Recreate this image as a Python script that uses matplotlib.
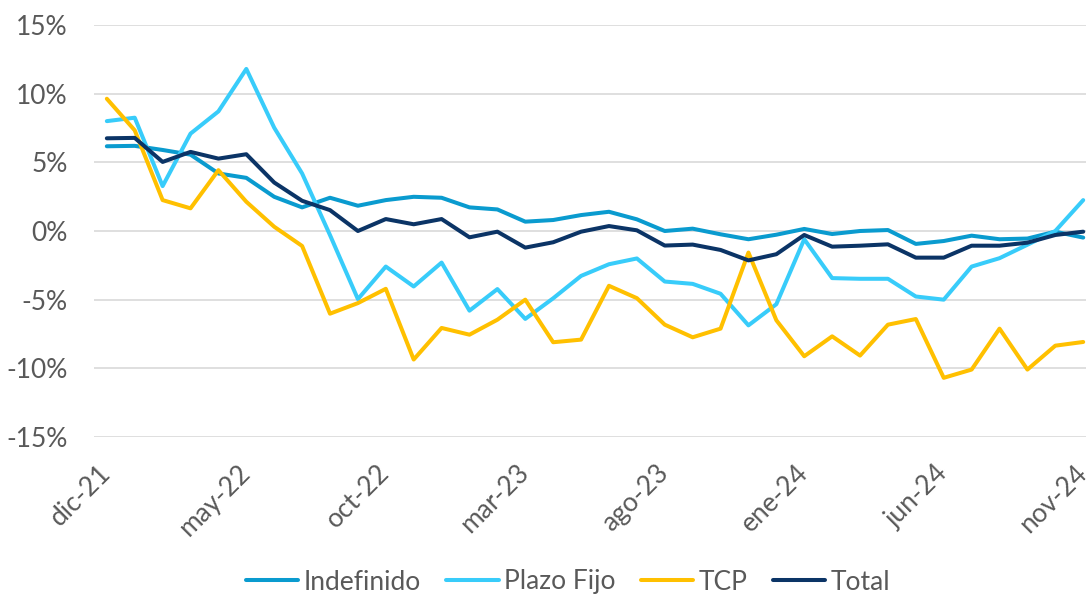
import matplotlib
matplotlib.use("Agg")
import matplotlib.pyplot as plt
from matplotlib.ticker import FuncFormatter

months = ["dic-21","ene-22","feb-22","mar-22","abr-22","may-22","jun-22","jul-22","ago-22","sep-22","oct-22","nov-22",
          "dic-22","ene-23","feb-23","mar-23","abr-23","may-23","jun-23","jul-23","ago-23","sep-23","oct-23","nov-23",
          "dic-23","ene-24","feb-24","mar-24","abr-24","may-24","jun-24","jul-24","ago-24","sep-24","oct-24","nov-24"]

indefinido = [6.17, 6.2, 5.9, 5.56, 4.19, 3.87, 2.49, 1.72, 2.42, 1.84, 2.25, 2.49,
              2.42, 1.72, 1.57, 0.68, 0.8, 1.16, 1.4, 0.85, 0.0, 0.17, -0.24, -0.6,
              -0.27, 0.15, -0.22, 0.0, 0.07, -0.94, -0.73, -0.34, -0.6, -0.55, -0.05, -0.48]
plazo_fijo = [8.0, 8.25, 3.27, 7.09, 8.71, 11.8, 7.52, 4.19, -0.3, -4.96, -2.59, -4.04,
              -2.3, -5.8, -4.23, -6.4, -4.9, -3.27, -2.42, -2.0, -3.68, -3.85, -4.57, -6.87,
              -5.33, -0.6, -3.43, -3.48, -3.48, -4.77, -5.0, -2.59, -1.98, -1.0, 0.0, 2.25]
tcp = [9.63, 7.33, 2.25, 1.65, 4.43, 2.13, 0.31, -1.09, -6.02, -5.25, -4.21, -9.36,
       -7.06, -7.55, -6.46, -5.0, -8.1, -7.91, -3.99, -4.89, -6.82, -7.74, -7.11, -1.57,
       -6.5, -9.12, -7.67, -9.07, -6.82, -6.41, -10.69, -10.09, -7.11, -10.09, -8.35, -8.08]
total = [6.75, 6.78, 5.03, 5.76, 5.27, 5.59, 3.53, 2.2, 1.52, 0.0, 0.87, 0.49,
         0.87, -0.46, -0.05, -1.21, -0.82, -0.05, 0.36, 0.05, -1.06, -0.99, -1.38, -2.14,
         -1.69, -0.29, -1.14, -1.07, -0.97, -1.94, -1.94, -1.07, -1.07, -0.85, -0.29, -0.05]

series_names = ["Indefinido", "Plazo Fijo", "TCP", "Total"]
colors = ["#0A9BCF", "#38CCFA", "#FFC000", "#0B3466"]
yticks = [-15, -10, -5, 0, 5, 10, 15]

plt.rcParams['font.family'] = ['Lato', 'DejaVu Sans']
text_color = "#595959"

fig = plt.figure(figsize=(10.86, 5.94), dpi=100)
ax = fig.add_axes([94/1086, 1 - 437/594, 1 - 94/1086, (437 - 25)/594])

x = list(range(len(months)))
for data, name, c in zip([indefinido, plazo_fijo, tcp, total], series_names, colors):
    ax.plot(x, data, color=c, lw=2.9, label=name, solid_joinstyle='round', solid_capstyle='round')

ax.set_ylim(-15, 15)
ax.set_xlim(-0.46, 35.1)
ax.set_yticks(yticks)
ax.yaxis.set_major_formatter(FuncFormatter(lambda v, p: f"{int(v)}%"))
ax.grid(axis='y', color="#D9D9D9", lw=1.2)
ax.set_axisbelow(True)
for s in ax.spines.values():
    s.set_visible(False)

tick_idx = list(range(0, len(months), 5))
ax.set_xticks(tick_idx)
ax.set_xticklabels([months[i] for i in tick_idx], rotation=45, ha='right', va='center',
                   rotation_mode='anchor')
ax.tick_params(axis='x', length=0, pad=23, labelsize=19, labelcolor=text_color)
ax.tick_params(axis='y', length=0, pad=19, labelsize=19, labelcolor=text_color)

leg = fig.legend(loc='center', bbox_to_anchor=(568/1086, 1 - 582/594), ncol=4, frameon=False,
                 fontsize=19, handlelength=2.0, handletextpad=0.2, columnspacing=0.95,
                 labelcolor=text_color)

fig.savefig("out.png", dpi=100)
